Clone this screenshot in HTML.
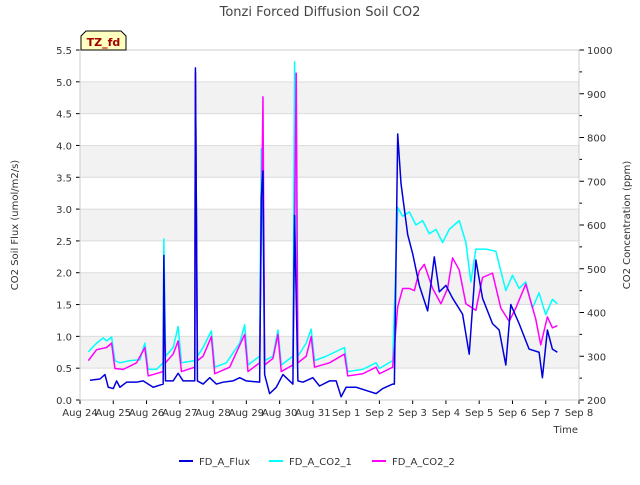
<!DOCTYPE html>
<html><head><meta charset="utf-8"><style>
body{margin:0;background:#fff;font-family:"Liberation Sans","DejaVu Sans",sans-serif}
</style></head><body>
<svg id="chart" width="640" height="480" xmlns="http://www.w3.org/2000/svg" font-family="DejaVu Sans, Liberation Sans, sans-serif" font-size="10">
<text x="320" y="16" text-anchor="middle" font-size="13" fill="#444">Tonzi Forced Diffusion Soil CO2</text>
<g id="bands"></g>
<g id="axes"></g>
<g id="series"></g>
<g><path d="M81,50 L81,36 L86,31 L121,31 L126,36 L126,50 Z" fill="#ffffc0" stroke="#000"/><text x="103.5" y="46" text-anchor="middle" font-size="11" font-weight="bold" fill="#a00000">TZ_fd</text></g>
<text transform="translate(18,225) rotate(-90)" text-anchor="middle" fill="#333">CO2 Soil Flux (umol/m2/s)</text>
<text transform="translate(630,225) rotate(-90)" text-anchor="middle" fill="#333">CO2 Concentration (ppm)</text>
<text x="578" y="433" text-anchor="end" fill="#333">Time</text>
<g>
<line x1="179" y1="461" x2="193" y2="461" stroke="#0000dd" stroke-width="2"/><text x="199" y="465" fill="#333">FD_A_Flux</text>
<line x1="269" y1="461" x2="283" y2="461" stroke="#00ffff" stroke-width="2"/><text x="289" y="465" fill="#333">FD_A_CO2_1</text>
<line x1="372" y1="461" x2="386" y2="461" stroke="#ff00ff" stroke-width="2"/><text x="392" y="465" fill="#333">FD_A_CO2_2</text>
</g>
</svg>
<script>
const xTickLabels=["Aug 24","Aug 25","Aug 26","Aug 27","Aug 28","Aug 29","Aug 30","Aug 31","Sep 1","Sep 2","Sep 3","Sep 4","Sep 5","Sep 6","Sep 7","Sep 8"];
const leftTicks=[0,0.5,1,1.5,2,2.5,3,3.5,4,4.5,5,5.5];
const rightTicks=[200,300,400,500,600,700,800,900,1000];
const fluxT=[0.3,0.6,0.75,0.85,1.0,1.1,1.2,1.4,1.7,1.9,2.2,2.5,2.52,2.57,2.8,2.95,3.1,3.45,3.47,3.53,3.7,3.9,4.1,4.3,4.6,4.8,5.0,5.4,5.45,5.5,5.55,5.7,5.9,6.1,6.4,6.45,6.55,6.7,7.0,7.2,7.5,7.7,7.85,8.0,8.3,8.6,8.9,9.1,9.4,9.45,9.55,9.65,9.85,10.0,10.2,10.45,10.65,10.8,11.0,11.2,11.5,11.7,11.9,12.1,12.4,12.6,12.8,12.95,13.2,13.5,13.8,13.9,14.05,14.2,14.35];
const fluxV=[.31,.33,.4,.2,.18,.3,.2,.28,.28,.3,.2,.25,2.27,.3,.3,.42,.3,.3,5.22,.3,.25,.35,.25,.28,.3,.35,.3,.28,3.2,3.6,.4,.1,.2,.4,.25,2.9,.3,.28,.35,.22,.3,.3,.05,.2,.2,.15,.1,.18,.25,.25,4.18,3.4,2.6,2.3,1.8,1.4,2.25,1.7,1.8,1.6,1.35,.72,2.2,1.6,1.2,1.1,.55,1.5,1.2,.8,.75,.35,1.1,.8,.75];
const co2aT=[0.25,0.5,0.7,0.8,0.95,1.05,1.2,1.5,1.8,1.95,2.05,2.3,2.5,2.52,2.57,2.8,2.95,3.05,3.45,3.47,3.53,3.7,3.95,4.05,4.4,4.8,4.95,5.05,5.4,5.45,5.5,5.55,5.8,5.95,6.05,6.4,6.45,6.55,6.8,6.95,7.05,7.4,7.95,8.05,8.5,8.9,9.0,9.4,9.55,9.7,9.9,10.1,10.3,10.5,10.7,10.9,11.1,11.4,11.6,11.75,11.9,12.2,12.5,12.8,13.0,13.2,13.4,13.6,13.8,14.0,14.2,14.35];
const co2aV=[310,330,342,335,344,290,285,290,292,330,270,270,285,568,300,320,368,285,290,950,300,320,358,275,285,330,372,280,300,774,600,290,300,360,280,300,973,300,330,362,290,300,320,265,270,285,272,290,640,620,630,600,610,580,590,560,590,610,560,470,545,545,540,450,485,455,470,410,445,395,430,420];
const co2bT=[0.25,0.5,0.8,0.95,1.05,1.3,1.7,1.95,2.05,2.5,2.52,2.57,2.8,2.95,3.05,3.45,3.47,3.53,3.7,3.95,4.05,4.5,4.95,5.05,5.4,5.5,5.55,5.8,5.95,6.05,6.4,6.5,6.55,6.8,6.95,7.05,7.5,7.95,8.05,8.5,8.9,9.0,9.4,9.55,9.7,9.9,10.05,10.2,10.35,10.6,10.85,11.05,11.2,11.4,11.6,11.9,12.1,12.4,12.65,12.9,13.1,13.4,13.7,13.85,14.05,14.2,14.35];
const co2bV=[290,315,320,330,272,270,285,320,255,265,400,285,305,335,265,275,950,290,300,345,260,275,350,265,285,893,280,295,350,265,280,947,285,300,345,275,285,305,255,260,275,260,275,413,455,455,450,495,510,455,420,455,525,497,420,405,480,490,410,380,410,465,385,326,390,365,370];
const NS="http://www.w3.org/2000/svg";
const X0=80,X1=579,Y0=400,Y1=50;
const xs=d=>X0+d*(X1-X0)/15;
const yl=v=>Y0-v*(Y0-Y1)/5.5;
const yr=v=>Y0-(v-200)*(Y0-Y1)/800;
function mk(tag,attrs,parent){const e=document.createElementNS(NS,tag);for(const k in attrs)e.setAttribute(k,attrs[k]);document.getElementById(parent).appendChild(e);return e;}
for(let i=0;i<11;i++){const v=i*0.5;
 if(i%2===1){const b=mk('rect',{x:X0,y:yl(v+0.5),width:X1-X0,height:yl(v)-yl(v+0.5),fill:'#f2f2f2'},'bands');
 
 }
}
for(const v of leftTicks){const g=mk('line',{x1:X0,x2:X1,y1:yl(v),y2:yl(v),stroke:'#dcdcdc'},'bands');
 
 
 mk('line',{x1:X0-4,x2:X0,y1:yl(v),y2:yl(v),stroke:'#000'},'axes');
 const t=mk('text',{x:X0-8,y:yl(v)+4,'text-anchor':'end',fill:'#333'},'axes');t.textContent=v.toFixed(1);
 
 }
rightTicks.forEach((v,i)=>{mk('line',{x1:X1,x2:X1+5,y1:yr(v),y2:yr(v),stroke:'#000'},'axes');
 if(i<rightTicks.length-1)mk('line',{x1:X1,x2:X1+3,y1:yr(v+50),y2:yr(v+50),stroke:'#000'},'axes');
 const t=mk('text',{x:X1+8,y:yr(v)+4,fill:'#333'},'axes');t.textContent=v;
 
 });
xTickLabels.forEach((s,i)=>{mk('line',{x1:xs(i),x2:xs(i),y1:Y0,y2:Y0+4,stroke:'#000'},'axes');
 const t=mk('text',{x:xs(i),y:Y0+16,'text-anchor':'middle',fill:'#333'},'axes');t.textContent=s;
 
 });
mk('rect',{x:X0,y:Y1,width:X1-X0,height:Y0-Y1,fill:'none',stroke:'#ccc'},'axes');
function line(T,V,yf,color,name){const p=mk('polyline',{points:T.map((t,i)=>xs(t)+','+yf(V[i])).join(' '),fill:'none',stroke:color,'stroke-width':1.5,'stroke-linejoin':'round'},'series');
 
 }
line(co2aT,co2aV,yr,'#00ffff','series-co2-1');
line(co2bT,co2bV,yr,'#ff00ff','series-co2-2');
line(fluxT,fluxV,yl,'#0000dd','series-flux');
</script>
</body></html>
